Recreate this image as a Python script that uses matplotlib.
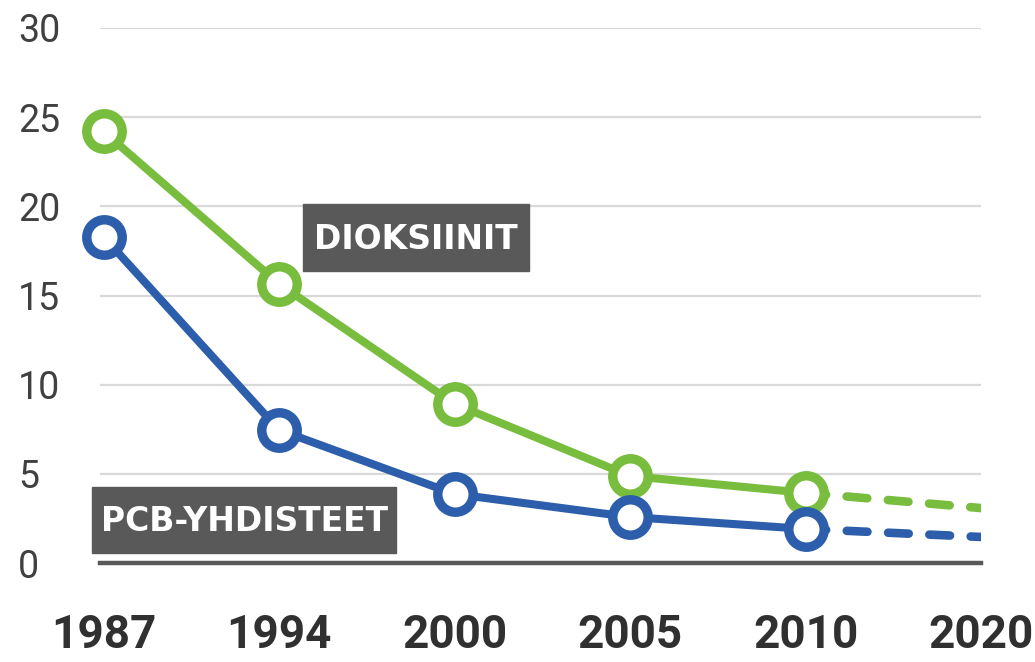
import matplotlib
matplotlib.use('Agg')
import matplotlib.pyplot as plt
from matplotlib.patches import Rectangle

years = ['1987', '1994', '2000', '2005', '2010', '2020']
dioxins = [24.2, 15.65, 8.92, 4.88, 3.93]        # measured, 1987-2010
pcb = [18.3, 7.46, 3.87, 2.58, 1.91]
dioxins_2020 = 3.08                               # projection (dashed)
pcb_2020 = 1.46

green = '#78bd3e'
blue = '#2d5eab'
box_grey = '#595959'

fig = plt.figure(figsize=(10.35, 6.62), dpi=100)
ax = fig.add_axes([100 / 1035, 1 - 563 / 662, 881 / 1035, 535 / 662])

x = list(range(len(years)))
xm = x[:len(dioxins)]

# gridlines + base line
for v in range(5, 31, 5):
    ax.axhline(v, color='#d9d9d9', lw=1.6, zorder=1)
ax.axhline(0, color=box_grey, lw=3.2, zorder=2, clip_on=False)

marker_kw = dict(marker='o', ms=25.5, mew=6.8, mfc='white', lw=5.8,
                 solid_capstyle='round', clip_on=False, zorder=4)

for vals, last, col in [(dioxins, dioxins_2020, green), (pcb, pcb_2020, blue)]:
    ax.plot([xm[-1], x[-1]], [vals[-1], last], color=col, lw=6.2,
            dashes=(2.4, 2.4), dash_capstyle='round', zorder=3)
    ax.plot(xm, vals, color=col, mec=col, **marker_kw)

ax.set_xlim(-0.02, 5.0)
ax.set_ylim(0, 30)
ax.set_xticks(x)
ax.set_xticklabels(years)
ax.set_yticks(range(0, 31, 5))
for s in ax.spines.values():
    s.set_visible(False)
ax.tick_params(length=0)
ax.tick_params(axis='x', pad=36)
ax.tick_params(axis='y', pad=59)
for lbl in ax.get_xticklabels():
    lbl.set_fontfamily('Roboto')
    lbl.set_fontweight('bold')
    lbl.set_fontsize(33)
    lbl.set_color('#303030')
for lbl in ax.get_yticklabels():
    lbl.set_fontfamily('Roboto')
    lbl.set_fontsize(27)
    lbl.set_color('#404040')
    lbl.set_horizontalalignment('left')

# series labels in grey boxes (pixel positions of the boxes)
labels = [('DIOKSIINIT', 303, 204, 529, 271),
          ('PCB-YHDISTEET', 92, 487, 396, 553)]
for txt, x0, y0, x1, y1 in labels:
    fig.patches.append(Rectangle((x0 / 1035, 1 - y1 / 662), (x1 - x0) / 1035,
                                 (y1 - y0) / 662, transform=fig.transFigure,
                                 color=box_grey, zorder=5))
    fig.text((x0 + x1) / 2 / 1035, 1 - (y0 + y1) / 2 / 662 - 0.003, txt,
             color='white', fontsize=23.8, fontweight='bold', family='DejaVu Sans',
             ha='center', va='center', zorder=6)

fig.savefig('out.png', dpi=100, facecolor='white')
